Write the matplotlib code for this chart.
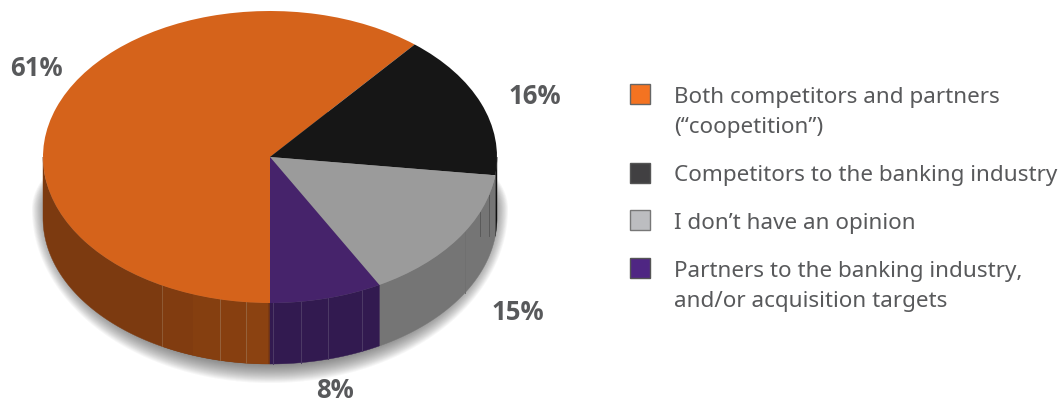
"""
3D looking pie of the survey answers, with legend on the right
"""

import numpy as np
import matplotlib
matplotlib.use("Agg")
import matplotlib.pyplot as plt
from matplotlib.patches import Polygon, Rectangle

W, H = 1064, 404

categories = [
    "Both competitors and partners\n(“coopetition”)",
    "Competitors to the banking industry",
    "I don’t have an opinion",
    "Partners to the banking industry,\nand/or acquisition targets",
]
values = [61, 16, 15, 8]
value_labels = ["61%", "16%", "15%", "8%"]

top_colors = ["#d5631b", "#161616", "#9b9b9b", "#46236b"]
side_colors = ["#7c3a10", "#101010", "#757575", "#321a50"]
legend_colors = ["#f47321", "#414042", "#bcbdc0", "#4f2683"]
legend_edges = ["#666666", "#555555", "#777777", "#555555"]

TEXT = "#58595b"
CX, CY, RX, RY, DEPTH = 270, 157, 227, 146, 61

plt.rcParams["font.family"] = ["Noto Sans", "DejaVu Sans"]
fig = plt.figure(figsize=(W / 100, H / 100), dpi=100)

# overlay in pixel coords for legend and labels
ov = fig.add_axes([0, 0, 1, 1], zorder=3)
ov.set_xlim(0, W)
ov.set_ylim(H, 0)
ov.axis("off")

ax = fig.add_axes([(CX - RX) / W, 1 - (CY + RY) / H, 2 * RX / W, 2 * RY / H], zorder=2)
wedges, _ = ax.pie(values, colors=top_colors, startangle=270, counterclock=False,
                   radius=1, frame=False, wedgeprops={"linewidth": 0, "zorder": 5, "clip_on": False})
ax.set_aspect("auto")
ax.set_xlim(-1, 1)
ax.set_ylim(-1, 1)
ax.axis("off")

depth = DEPTH / RY


def arc(t1, t2, dy=0.0, n=80):
    t = np.radians(np.linspace(t1, t2, n))
    return np.column_stack([np.cos(t), np.sin(t) + dy])


# soft shadow under the pie, stacked see through shapes
t = np.radians(np.linspace(0, 360, 240))
for grow in np.linspace(13, -6, 20):
    sx = (RX + grow * 0.85) / RX
    low_r = (RY + DEPTH - 52 + 6 + grow) / RY
    sy = np.where(np.sin(t) < 0, low_r, 100 / RY)
    pts = np.column_stack([sx * np.cos(t), sy * np.sin(t) - 52 / RY])
    ax.add_patch(Polygon(pts, fc="#333333", ec="none", alpha=0.04, zorder=1, clip_on=False))

# side walls, only the front half is seen
for w, col in zip(wedges, side_colors):
    t1, t2 = w.theta1 % 360, w.theta2 % 360
    if t2 <= t1:
        t2 += 360
    for a, b in [(t1, t2), (t1 - 360, t2 - 360)]:
        a, b = max(a, 180), min(b, 360)
        if b > a:
            pts = np.vstack([arc(a, b), arc(b, a, -depth)])
            ax.add_patch(Polygon(pts, fc=col, ec=col, lw=0.3, zorder=3, clip_on=False))


def wall_x_to_angle(px):
    # pixel column on the front of the rim -> angle on the ellipse
    return 360 - np.degrees(np.arccos((px - CX) / RX))


# lighter facets on the orange rim
facets = [(162, 193, "#813c10"), (193, 220, "#853f10"), (220, 246, "#873f10"), (246, 268, "#8b4211")]
for x0, x1, col in facets:
    a, b = wall_x_to_angle(x0), wall_x_to_angle(x1)
    ax.add_patch(Polygon(np.vstack([arc(a, b), arc(b, a, -depth)]), fc=col, ec="none",
                         zorder=3.1, clip_on=False))

# thin seams on the rim, the last ones stop short at the grey wall
seams = [(162, "#8f5a35", None), (220, "#96623c", None), (246, "#96623c", None),
         (273, "#4d3a66", None), (301, "#4d3a66", None), (328, "#4d3a66", None),
         (362, "#4d3a66", None), (465, "#707070", None),
         (480, "#5a5a5a", 236), (489, "#5a5a5a", 236)]
for px, col, end in seams:
    a = wall_x_to_angle(px)
    xs = np.cos(np.radians(a))
    ys = np.sin(np.radians(a))
    y_end = ys - depth if end is None else (CY - end) / RY
    ax.plot([xs, xs], [ys, y_end], color=col, lw=0.7, zorder=3.2, clip_on=False)

# legend
box_tops = [84, 163, 210, 258]
text_rows = [[98, 128], [176], [224], [271, 301]]
for cat, col, edge, top, rows in zip(categories, legend_colors, legend_edges, box_tops, text_rows):
    ov.add_patch(Rectangle((630, top), 20, 20, fc=col, ec=edge, lw=1))
    for line, y in zip(cat.split("\n"), rows):
        ov.text(674, y, line, color=TEXT, fontsize=16.15, va="center", ha="left")

# value labels
label_pos = [(36, 69), (535, 97), (518, 312), (335, 390)]
for txt, (x, y) in zip(value_labels, label_pos):
    ov.text(x, y, txt, color=TEXT, fontsize=18.5, family=["Open Sans", "DejaVu Sans"],
            fontweight="bold", va="center", ha="center")

fig.savefig("out.png", dpi=100)
